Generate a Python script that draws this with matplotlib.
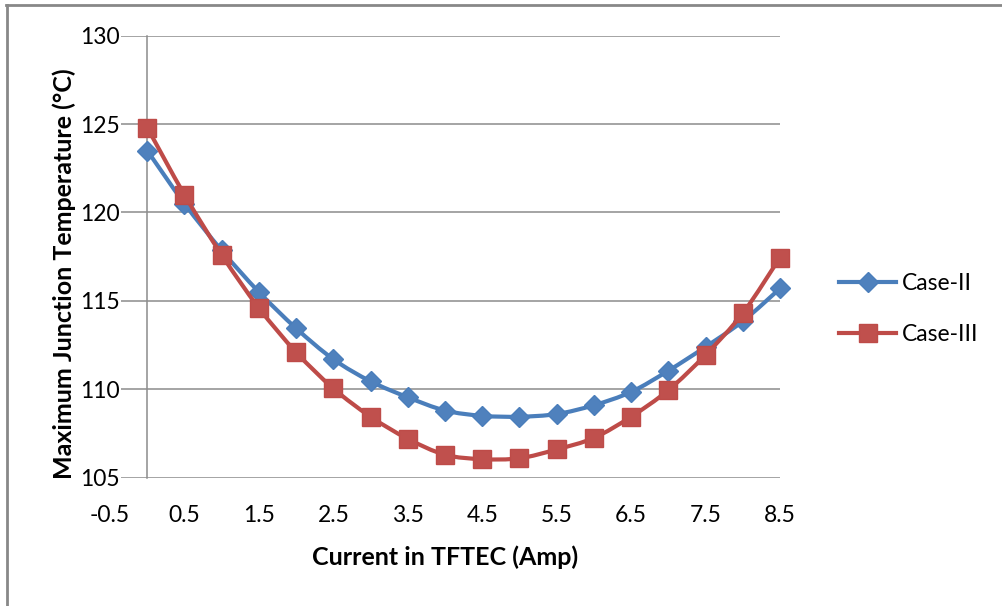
import numpy as np
import matplotlib
matplotlib.use("Agg")
import matplotlib.pyplot as plt
from matplotlib.path import Path
from matplotlib.patches import PathPatch
from matplotlib.lines import Line2D

# Current through the TFTEC (A) and maximum junction temperature (deg C)
current = [0.0, 0.5, 1.0, 1.5, 2.0, 2.5, 3.0, 3.5, 4.0, 4.5,
           5.0, 5.5, 6.0, 6.5, 7.0, 7.5, 8.0, 8.5]
case_ii = [123.5, 120.5, 117.85, 115.5, 113.45, 111.7, 110.45, 109.55, 108.8, 108.5,
           108.45, 108.6, 109.1, 109.85, 111.05, 112.4, 113.85, 115.7]
case_iii = [124.8, 121.0, 117.6, 114.6, 112.1, 110.05, 108.45, 107.2, 106.3, 106.05,
            106.1, 106.6, 107.25, 108.45, 109.95, 111.95, 114.3, 117.45]

x_ticks = [-0.5, 0.5, 1.5, 2.5, 3.5, 4.5, 5.5, 6.5, 7.5, 8.5]
y_ticks = [105, 110, 115, 120, 125, 130]
series_names = ["Case-II", "Case-III"]

BLUE_LINE, BLUE_MARK = "#4A7EBB", "#4F81BD"
RED_LINE, RED_MARK = "#BE4B48", "#C0504D"
GRID = "#8C8C8C"

plt.rcParams["font.family"] = ["Lato", "DejaVu Sans"]
plt.rcParams["axes.unicode_minus"] = False

W, H = 1003, 606
fig = plt.figure(figsize=(W / 100, H / 100), dpi=100)
fig.patch.set_facecolor("white")

# plot area in pixel terms
left_px, right_px, top_px, bottom_px = 110, 780, 35.6, 477.7
ax = fig.add_axes([left_px / W, 1 - bottom_px / H,
                   (right_px - left_px) / W, (bottom_px - top_px) / H])
ax.set_xlim(-0.5, 8.5)
ax.set_ylim(105, 130)

for side in ("top", "right", "bottom"):
    ax.spines[side].set_visible(False)
ax.spines["left"].set_position(("data", 0))
ax.spines["left"].set_color(GRID)
ax.spines["left"].set_linewidth(1.1)

# horizontal gridlines start just right of the value labels
grid_start = (121 - left_px) / (right_px - left_px)
ax.hlines(y_ticks, grid_start, 1.0, transform=ax.get_yaxis_transform(),
          colors=GRID, linewidth=1.1, zorder=1)

ax.set_xticks(x_ticks)
ax.set_xticklabels([f"{v:.1f}" for v in x_ticks])
ax.set_yticks(y_ticks)
ax.set_yticklabels([str(v) for v in y_ticks])
ax.tick_params(axis="both", length=0, labelsize=16.5, colors="black")
ax.tick_params(axis="y", pad=20)
ax.tick_params(axis="x", pad=19.5)


def smooth_path(xs, ys):
    pts = np.column_stack([xs, ys]).astype(float)
    n = len(pts)
    verts = [pts[0]]
    codes = [Path.MOVETO]
    for i in range(n - 1):
        p0 = pts[max(i - 1, 0)]
        p1 = pts[i]
        p2 = pts[i + 1]
        p3 = pts[min(i + 2, n - 1)]
        c1 = p1 + (p2 - p0) / 6.0
        c2 = p2 - (p3 - p1) / 6.0
        verts += [c1, c2, p2]
        codes += [Path.CURVE4] * 3
    return Path(verts, codes)


styles = [
    (case_ii, BLUE_LINE, BLUE_MARK, "D", 10.5, 3),
    (case_iii, RED_LINE, RED_MARK, "s", 13.5, 5),
]
handles = []
for (vals, lc, mc, mk, ms, z), name in zip(styles, series_names):
    ax.add_patch(PathPatch(smooth_path(current, vals), fill=False, edgecolor=lc,
                           linewidth=3.0, capstyle="round", joinstyle="round",
                           zorder=z))
    ax.plot(current, vals, linestyle="none", marker=mk, markersize=ms,
            markerfacecolor=mc, markeredgecolor=lc, markeredgewidth=1.0,
            zorder=z + 1, clip_on=False)
    handles.append(Line2D([], [], color=lc, linewidth=3.0, marker=mk,
                          markersize=ms, markerfacecolor=mc,
                          markeredgecolor=lc, markeredgewidth=1.0))

fig.legend(handles, series_names, loc="upper left",
           bbox_to_anchor=(839 / W, 1 - 273 / H), frameon=False,
           fontsize=16.5, handlelength=2.5, handletextpad=0.25,
           labelspacing=1.3, borderpad=0, borderaxespad=0, numpoints=1)

fig.text(445 / W, 1 - 565 / H, "Current in TFTEC (Amp)", ha="center",
         va="baseline", fontsize=18, fontweight="bold")
fig.text(72 / W, 1 - 273.5 / H, "Maximum Junction Temperature (°C)",
         rotation=90, rotation_mode="anchor", ha="center", va="baseline",
         fontsize=18, fontweight="bold")

# chart-area frame (top and left edges)
fig.add_artist(Line2D([7 / W, 7 / W], [0, 1 - 4.5 / H], transform=fig.transFigure,
                      color="#888888", linewidth=2.0))
fig.add_artist(Line2D([6 / W, 1], [1 - 4.5 / H, 1 - 4.5 / H],
                      transform=fig.transFigure, color="#888888", linewidth=2.0))

fig.savefig("out.png", dpi=100, facecolor="white")
